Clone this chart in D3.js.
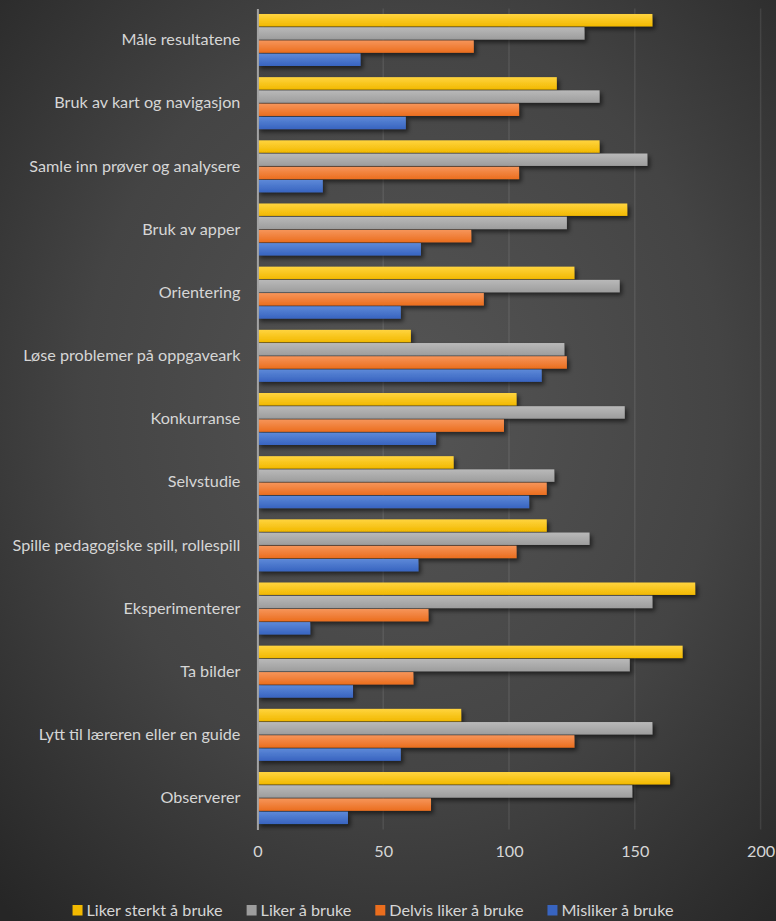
<!DOCTYPE html>
<html>
<head>
<meta charset="utf-8">
<script src="https://cdn.jsdelivr.net/npm/d3@7"></script>
<style>
  html, body { margin: 0; padding: 0; background: #333; }
  svg { display: block; }
  text { font-family: Lato, "Open Sans", sans-serif; fill: #d6d6d6; }
</style>
</head>
<body>
<svg id="chart" width="776" height="921"></svg>
<script>
// Activities, listed top to bottom
const categories = [
  "Måle resultatene",
  "Bruk av kart og navigasjon",
  "Samle inn prøver og analysere",
  "Bruk av apper",
  "Orientering",
  "Løse problemer på oppgaveark",
  "Konkurranse",
  "Selvstudie",
  "Spille pedagogiske spill, rollespill",
  "Eksperimenterer",
  "Ta bilder",
  "Lytt til læreren eller en guide",
  "Observerer"
];

const seriesNames = ["Liker sterkt å bruke", "Liker å bruke", "Delvis liker å bruke", "Misliker å bruke"];

// One array per answer, in the order of the categories above
const likerSterkt = [157, 119, 136, 147, 126, 61, 103, 78, 115, 174, 169, 81, 164];
const liker       = [130, 136, 155, 123, 144, 122, 146, 118, 132, 157, 148, 157, 149];
const delvisLiker = [86, 104, 104, 85, 90, 123, 98, 115, 103, 68, 62, 126, 69];
const misliker    = [41, 59, 26, 65, 57, 113, 71, 108, 64, 21, 38, 57, 36];

const xTicks = [0, 50, 100, 150, 200];

const seriesValues = [likerSterkt, liker, delvisLiker, misliker];
const colors = [
  ["#ffd43f", "#f2b900"],
  ["#b9b9b9", "#9d9d9d"],
  ["#f6955a", "#eb6e1e"],
  ["#5d89d8", "#3864c0"]
];

const FONT = 16.2;
const W = 776, H = 921;
const svg = d3.select("#chart");
const defs = svg.append("defs");

// dark radial backdrop
const bg = defs.append("radialGradient").attr("id", "bg")
  .attr("cx", "52%").attr("cy", "44%").attr("r", "75%");
bg.append("stop").attr("offset", "0%").attr("stop-color", "#555555");
bg.append("stop").attr("offset", "55%").attr("stop-color", "#444444");
bg.append("stop").attr("offset", "100%").attr("stop-color", "#262626");
svg.append("rect").attr("width", W).attr("height", H).attr("fill", "url(#bg)");

// vertical gradient per series
colors.forEach((c, i) => {
  const g = defs.append("linearGradient").attr("id", "bar" + i)
    .attr("x1", 0).attr("y1", 0).attr("x2", 0).attr("y2", 1);
  g.append("stop").attr("offset", "0%").attr("stop-color", c[0]);
  g.append("stop").attr("offset", "100%").attr("stop-color", c[1]);
});

const shadow = defs.append("filter").attr("id", "shadow")
  .attr("x", "-10%").attr("y", "-40%").attr("width", "130%").attr("height", "200%");
shadow.append("feDropShadow").attr("dx", 2.5).attr("dy", 3).attr("stdDeviation", 2.2)
  .attr("flood-color", "#000").attr("flood-opacity", 0.55);

const plotTop = 8.4, plotBottom = 829.6;
const x = d3.scaleLinear().domain([0, 200]).range([257.4, 760.6]);
const y = d3.scaleBand().domain(categories).range([plotTop, plotBottom])
  .paddingInner(0.1768).paddingOuter(0.0884);
const ySub = d3.scaleBand().domain(d3.range(seriesNames.length))
  .range([0, y.bandwidth()]).paddingInner(0.06);

// gridlines
svg.append("g").selectAll("line").data(xTicks.slice(1)).join("line")
  .attr("x1", d => x(d)).attr("x2", d => x(d))
  .attr("y1", plotTop).attr("y2", plotBottom)
  .attr("stroke", "rgba(255,255,255,0.09)").attr("stroke-width", 1.5);

// bars
const groups = svg.append("g").selectAll("g").data(categories).join("g")
  .attr("transform", d => `translate(0,${y(d)})`);

groups.selectAll("rect")
  .data((c, ci) => seriesValues.map((vals, si) => ({ si, v: vals[ci] })))
  .join("rect")
  .attr("x", x(0))
  .attr("y", d => ySub(d.si))
  .attr("width", d => x(d.v) - x(0))
  .attr("height", ySub.bandwidth())
  .attr("fill", d => `url(#bar${d.si})`)
  .attr("filter", "url(#shadow)");

// category axis
const yAxis = svg.append("g").attr("transform", `translate(${x(0)},0)`)
  .call(d3.axisLeft(y).tickSize(0).tickPadding(17));
yAxis.select(".domain").attr("stroke", "#a3a3a3").attr("stroke-width", 2);
yAxis.selectAll("text").attr("font-size", FONT).attr("fill", "#d6d6d6")
  .style("font-family", "Lato, sans-serif");

// value axis
const xAxis = svg.append("g").attr("transform", `translate(0,${plotBottom})`)
  .call(d3.axisBottom(x).tickValues(xTicks).tickSize(0).tickPadding(16));
xAxis.select(".domain").remove();
xAxis.selectAll("text").attr("font-size", FONT).attr("fill", "#d6d6d6")
  .style("font-family", "Lato, sans-serif");

// legend
const legend = svg.append("g");
const items = legend.selectAll("g").data(seriesNames).join("g");
items.append("rect").attr("width", 10).attr("height", 10.5).attr("y", 905)
  .attr("fill", (d, i) => colors[i][1]);
items.append("text").attr("x", 14).attr("y", 910.5).attr("dy", "0.35em")
  .attr("font-size", FONT).text(d => d);
let cursor = 0;
const offsets = [];
items.each(function () {
  offsets.push(cursor);
  cursor += 14 + this.querySelector("text").getComputedTextLength() + 24;
});
const total = cursor - 24;
const startX = 373 - total / 2;
items.attr("transform", (d, i) => `translate(${startX + offsets[i]},0)`);
</script>
</body>
</html>
